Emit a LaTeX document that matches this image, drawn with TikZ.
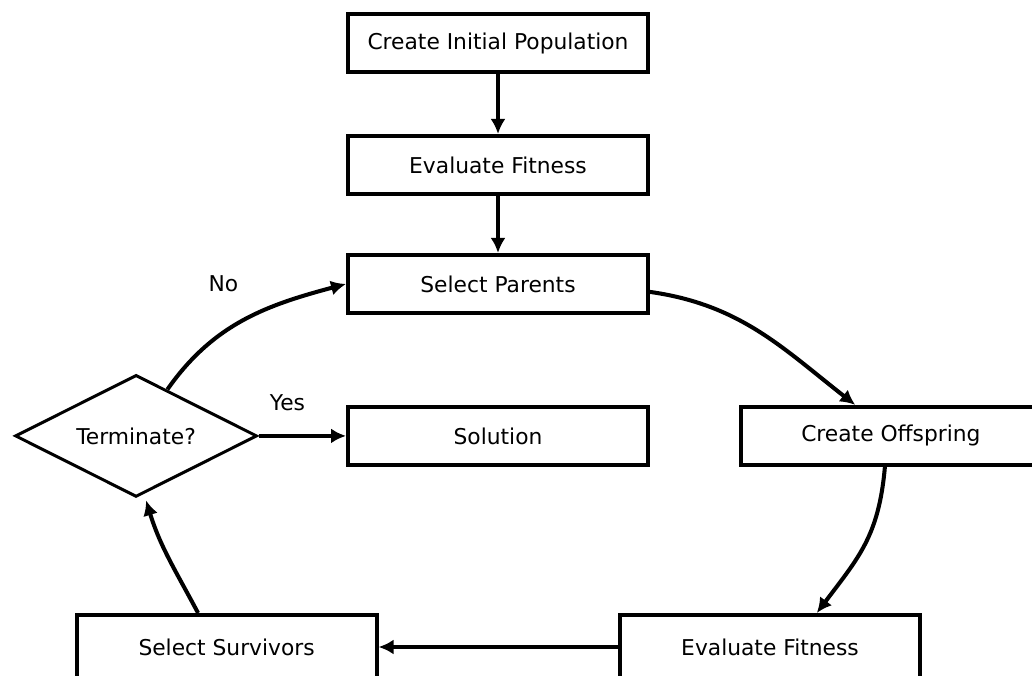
\documentclass[tikz,border=0pt]{standalone}
\usepackage{fontspec}
\setmainfont{DejaVu Sans}
\usetikzlibrary{shapes,arrows,arrows.meta}
\tikzstyle{block} = [draw, rectangle, line width=2.3pt,
    minimum width=6cm, minimum height=1.16cm]
\tikzstyle{decision} = [draw, diamond, aspect=2, line width=1.7pt, inner sep=0pt,
    minimum width=4.84cm, minimum height=2.44cm]
\tikzstyle{link} = [draw, ->, line width=2.3pt]
\begin{document}
\begin{tikzpicture}[x=0.02cm, y=0.02cm, node distance=2cm, >={Latex[length=0.3cm,width=0.3cm]},
    every node/.style={font=\fontsize{12.4}{15}\selectfont}]
    \useasboundingbox (0,0) rectangle (1032,676);
    % We start by placing the blocks
    \node [block] at (498,633) (init) {Create Initial Population};
    \node [block, below of=init, node distance=2.44cm] (eval1) {Evaluate Fitness};
    \node [block, below of=eval1, node distance=2.38cm] (parents) {Select Parents};
    \node [block, below of=parents, node distance=3.04cm] (solution) {Solution};
    \node [block, right of=solution, node distance=7.86cm] (offspring) {Create Offspring};
    \node [decision, left of=solution, node distance=7.24cm] (term) {Terminate?};
    \node [block, minimum height=1.28cm] at (770,29) (eval2) {Evaluate Fitness};
    \node [block, minimum height=1.28cm, left of=eval2, node distance=10.87cm] (survivors) {Select Survivors};

    \draw [link] (init) -- (eval1);
    \draw [link] (eval1) -- (parents);
    \draw [link] (parents.-3.5) to[out=-8, in=142] (offspring.139);
    \draw [link] (offspring.259) to[out=-95, in=53, looseness=1.1] (eval2.36);
    \draw [link] (eval2.west) -- (survivors.east);
    \draw [link] (survivors.130) to[out=118, in=-73] ([xshift=0.2cm,yshift=-0.04cm]term.south);
    \draw [link] (term.56) to[out=55, in=195]
        node[pos=0.45, above left, xshift=0.2cm, yshift=0.5cm] (no) {No} (parents.west);
    \draw [link] (term.east) -- node[pos=0.33, above=0.35cm] (yes) {Yes} (solution.west);
\end{tikzpicture}
\end{document}
